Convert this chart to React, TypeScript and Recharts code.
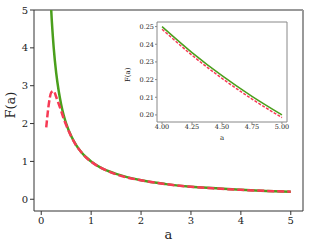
import React from "react";
import { LineChart, Line, XAxis, YAxis, ReferenceLine } from "recharts";

// main curve samples
const aValues = [0.1, 0.15, 0.2, 0.25, 0.3, 0.35, 0.4, 0.45, 0.5, 0.6, 0.7, 0.8, 0.9, 1.0, 1.2, 1.5, 2.0, 2.5, 3.0, 3.5, 4.0, 4.5, 5.0];
const greenValues = [10, 6.67, 5, 4, 3.33, 2.86, 2.5, 2.22, 2, 1.67, 1.43, 1.25, 1.11, 1.0, 0.83, 0.67, 0.5, 0.4, 0.33, 0.29, 0.25, 0.22, 0.2];
const redValues = [1.9, 2.5, 2.82, 2.86, 2.7, 2.52, 2.33, 2.13, 1.96, 1.66, 1.42, 1.25, 1.1, 0.99, 0.83, 0.66, 0.5, 0.4, 0.33, 0.285, 0.249, 0.221, 0.199];

// inset samples
const insetA = [4.0, 4.25, 4.5, 4.75, 5.0];
const insetGreen = [0.25, 0.2353, 0.2222, 0.2105, 0.2];
const insetRed = [0.2485, 0.2338, 0.2207, 0.209, 0.1985];

const mainTicksX = [0, 1, 2, 3, 4, 5];
const mainTicksY = [0, 1, 2, 3, 4, 5];
const insetTicksX = [4.0, 4.25, 4.5, 4.75, 5.0];
const insetTicksY = [0.2, 0.21, 0.22, 0.23, 0.24, 0.25];

const mainData = aValues.map((a, i) => ({ a, green: greenValues[i], red: redValues[i] }));
const insetData = insetA.map((a, i) => ({ a, green: insetGreen[i], red: insetRed[i] }));

const FONT = "DejaVu Serif";
const GREEN = "#4a9f1c";
const RED = "#f73a55";

const App: React.FC = () => {
  return (
    <div style={{ position: "absolute", left: 0, top: 0, width: 311, height: 249, background: "#fff", fontFamily: FONT }}>
      <LineChart width={311} height={249} data={mainData} margin={{ top: 10, right: 8, bottom: 0, left: 10 }}>
        <XAxis
          dataKey="a"
          type="number"
          domain={[-0.145, 5.245]}
          ticks={mainTicksX}
          tickFormatter={(v: number) => String(v)}
          stroke="#333"
          tickSize={4}
          tickMargin={2}
          height={38}
          tick={{ fill: "#222", fontSize: 10, fontFamily: FONT }}
          label={{ value: "a", position: "insideBottom", offset: 10, fill: "#222", fontSize: 13, fontFamily: FONT }}
        />
        <YAxis
          type="number"
          domain={[-0.31, 5]}
          allowDataOverflow
          ticks={mainTicksY}
          stroke="#333"
          tickSize={4}
          tickMargin={2}
          width={24}
          tick={{ fill: "#222", fontSize: 10, fontFamily: FONT }}
          label={{ value: "F(a)", angle: -90, position: "insideLeft", offset: 0, dy: 8, fill: "#222", fontSize: 13, fontFamily: FONT }}
        />
        <ReferenceLine y={5} stroke="#999" strokeWidth={2} />
        <ReferenceLine x={5.245} stroke="#999" strokeWidth={2} />
        <Line dataKey="green" type="monotone" stroke={GREEN} strokeWidth={2.5} dot={false} isAnimationActive={false} />
        <Line dataKey="red" type="monotone" stroke={RED} strokeWidth={2.5} strokeDasharray="7 3" dot={false} isAnimationActive={false} />
      </LineChart>
      <div style={{ position: "absolute", left: 120, top: 15 }}>
        <LineChart width={175} height={135} data={insetData} margin={{ top: 7, right: 8, bottom: 0, left: 12 }}>
          <XAxis
            dataKey="a"
            type="number"
            domain={[3.958, 5.042]}
            ticks={insetTicksX}
            tickFormatter={(v: number) => v.toFixed(2)}
            stroke="#888"
            tickSize={2}
            tickMargin={0}
            height={28}
            tick={{ fill: "#222", fontSize: 6.5, fontFamily: FONT }}
            label={{ value: "a", position: "insideBottom", offset: 10, fill: "#222", fontSize: 7, fontFamily: FONT }}
          />
          <YAxis
            type="number"
            domain={[0.196, 0.2526]}
            ticks={insetTicksY}
            tickFormatter={(v: number) => v.toFixed(2)}
            stroke="#888"
            tickSize={2}
            tickMargin={1}
            width={25}
            tick={{ fill: "#222", fontSize: 6.5, fontFamily: FONT }}
            label={{ value: "F(a)", angle: -90, position: "insideLeft", offset: -4, dy: 10, fill: "#222", fontSize: 7, fontFamily: FONT }}
          />
          <ReferenceLine y={0.2526} stroke="#888" />
          <ReferenceLine x={5.042} stroke="#888" />
          <Line dataKey="green" type="monotone" stroke={GREEN} strokeWidth={1.5} dot={false} isAnimationActive={false} />
          <Line dataKey="red" type="monotone" stroke={RED} strokeWidth={1.5} strokeDasharray="3 1.5" dot={false} isAnimationActive={false} />
        </LineChart>
      </div>
    </div>
  );
};

export default App;
